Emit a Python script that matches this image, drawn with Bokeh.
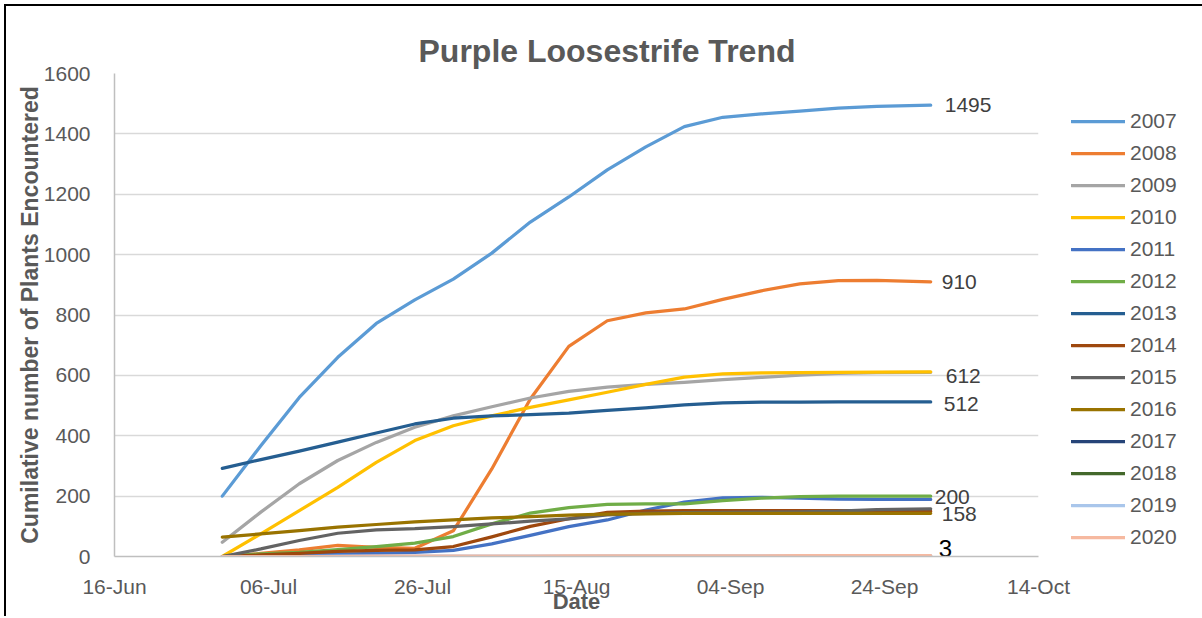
import numpy as np
from bokeh.plotting import figure
from bokeh.models import (FixedTicker, DatetimeTickFormatter, Range1d, Legend,
                          LegendItem, NumeralTickFormatter)
from bokeh.core.properties import value
from bokeh.embed import file_html
from bokeh.resources import INLINE

# ---------------- data ----------------
dates = ["2021-06-30", "2021-07-05", "2021-07-10", "2021-07-15", "2021-07-20",
         "2021-07-25", "2021-07-30", "2021-08-04", "2021-08-09", "2021-08-14",
         "2021-08-19", "2021-08-24", "2021-08-29", "2021-09-03", "2021-09-08",
         "2021-09-13", "2021-09-18", "2021-09-23", "2021-09-30"]

years = ["2007", "2008", "2009", "2010", "2011", "2012", "2013",
         "2014", "2015", "2016", "2017", "2018", "2019", "2020"]

y2007 = [200, 367, 527, 660, 772, 850, 919, 1005, 1108, 1191, 1281, 1357, 1424, 1455, 1466, 1475, 1485, 1491, 1495]
y2008 = [0, 10, 22, 37, 30, 27, 85, 290, 522, 696, 781, 807, 820, 852, 880, 903, 914, 915, 910]
y2009 = [47, 147, 241, 318, 378, 428, 466, 496, 525, 547, 561, 570, 577, 586, 593, 601, 607, 609, 610]
y2010 = [0, 75, 152, 229, 312, 384, 433, 466, 494, 519, 544, 570, 594, 605, 608, 609, 610, 611, 612]
y2011 = [0, 3, 5, 8, 10, 14, 20, 42, 70, 99, 121, 154, 180, 194, 196, 193, 190, 189, 189]
y2012 = [0, 9, 14, 23, 33, 44, 66, 108, 144, 162, 173, 174, 174, 185, 193, 198, 200, 200, 200]
y2013 = [292, 321, 349, 379, 409, 439, 458, 466, 470, 475, 484, 492, 502, 509, 511, 511, 512, 512, 512]
y2014 = [0, 5, 10, 17, 20, 22, 33, 65, 100, 125, 146, 150, 152, 152, 152, 152, 152, 152, 150]
y2015 = [0, 25, 53, 77, 88, 92, 99, 108, 117, 125, 138, 143, 145, 146, 147, 148, 150, 155, 158]
y2016 = [64, 75, 86, 97, 106, 115, 121, 128, 132, 137, 140, 141, 143, 143, 143, 143, 143, 143, 143]
y2017 = [0, 0, 0, 0, 0, 0, 0, 0, 0, 0, 0, 0, 0, 0, 0, 0, 0, 0, 0]
y2018 = [0, 0, 0, 0, 0, 0, 0, 0, 0, 0, 0, 0, 0, 0, 0, 0, 0, 0, 0]
y2019 = [0, 0, 0, 1, 1, 1, 1, 1, 1, 1, 2, 2, 2, 2, 2, 2, 3, 3, 3]
y2020 = [0, 0, 0, 0, 1, 1, 1, 1, 1, 2, 2, 2, 2, 2, 2, 3, 3, 3, 3]

series = [y2007, y2008, y2009, y2010, y2011, y2012, y2013,
          y2014, y2015, y2016, y2017, y2018, y2019, y2020]

colors = ["#5B9BD5", "#ED7D31", "#A5A5A5", "#FFC000", "#4472C4", "#70AD47", "#255E91",
          "#9E480E", "#636363", "#997300", "#264478", "#43682B", "#A9C6EB", "#F6B9A0"]

tick_dates = ["2021-06-16", "2021-07-06", "2021-07-26", "2021-08-15",
              "2021-09-04", "2021-09-24", "2021-10-14"]
y_ticks = [0, 200, 400, 600, 800, 1000, 1200, 1400, 1600]

# end labels: (series year, label text)
end_label_years = ["2007", "2008", "2010", "2013", "2012", "2015", "2020"]
end_label_texts = ["1495", "910", "612", "512", "200", "158", "3"]

# styling for end labels (pixel offsets, sizes, colours)
end_label_dx = [14, 11, 15, 13, 4, 11, 8]
end_label_dy = [0, 0, 4, 2, 1, 5, -7]
end_label_size = ["21px", "21px", "21px", "21px", "21px", "21px", "24px"]
end_label_color = ["#404040"] * 6 + ["#000000"]

# ---------------- plot ----------------
xd = np.array(dates, dtype="datetime64[ms]")
xt = np.array(tick_dates, dtype="datetime64[ms]").astype("int64")

FONT = "Liberation Sans"

p = figure(frame_width=924, frame_height=483, x_axis_type="datetime",
           output_backend="svg", toolbar_location=None,
           min_border_left=108, min_border_right=164,
           min_border_top=67, min_border_bottom=56,
           x_range=Range1d(float(xt[0]), float(xt[-1])),
           y_range=Range1d(0, 1600))
p.styles = {"border-top": "2px solid #000000", "border-left": "2px solid #000000",
            "margin-left": "4px", "margin-top": "4px"}

p.outline_line_color = None
p.background_fill_color = "white"
p.border_fill_color = "white"

p.title.text = "Purple Loosestrife Trend"
p.title.text_font = FONT
p.title.text_font_size = "32px"
p.title.text_font_style = "bold"
p.title.text_color = "#595959"
p.title.align = "left"
p.title.offset = 304
p.title.standoff = 9

p.xaxis.ticker = FixedTicker(ticks=list(xt.astype(float)))
p.xaxis.formatter = DatetimeTickFormatter(days="%d-%b", months="%d-%b", years="%d-%b")
p.yaxis.ticker = FixedTicker(ticks=y_ticks)
p.yaxis.formatter = NumeralTickFormatter(format="0")

for ax in (p.xaxis[0], p.yaxis[0]):
    ax.axis_line_color = "#BFBFBF"
    ax.axis_line_width = 1.5
    ax.major_tick_line_color = None
    ax.minor_tick_line_color = None
    ax.major_label_text_font = FONT
    ax.major_label_text_font_size = "21px"
    ax.major_label_text_color = "#595959"
    ax.axis_label_text_font = FONT
    ax.axis_label_text_font_style = "bold"
    ax.axis_label_text_color = "#595959"

p.yaxis.major_label_standoff = 18
p.xaxis.major_label_standoff = 12
p.yaxis.axis_label = "Cumilative number of Plants Encountered"
p.yaxis.axis_label_text_font_size = "23px"
p.yaxis.axis_label_standoff = -2
p.xaxis.axis_label = "Date"
p.xaxis.axis_label_text_font_size = "22px"
p.xaxis.axis_label_standoff = -12

p.xgrid.grid_line_color = None
p.ygrid.grid_line_color = "#D9D9D9"
p.ygrid.grid_line_width = 1.5

items = []
for yr, ys, c in zip(years, series, colors):
    r = p.line(xd, ys, line_color=c, line_width=3.25, line_cap="round", line_join="round")
    items.append(LegendItem(label=yr, renderers=[r]))

for yr, txt, dx, dy, fs, col in zip(end_label_years, end_label_texts, end_label_dx,
                                    end_label_dy, end_label_size, end_label_color):
    ys = series[years.index(yr)]
    p.text(x=[xd[-1]], y=[ys[-1]], text=[txt], x_offset=dx, y_offset=dy,
           text_font=value(FONT), text_font_size=fs, text_color=col,
           text_align="left", text_baseline="middle")

legend = Legend(items=items, location=(33, 7))
legend.label_text_font = FONT
legend.label_text_font_size = "21px"
legend.label_text_color = "#595959"
legend.glyph_width = 54
legend.glyph_height = 24
legend.label_height = 24
legend.label_standoff = 5
legend.spacing = 8
legend.padding = 0
legend.margin = 0
legend.border_line_color = None
legend.background_fill_alpha = 0
p.add_layout(legend, "right")

open("out.html", "w").write(file_html(p, INLINE))
